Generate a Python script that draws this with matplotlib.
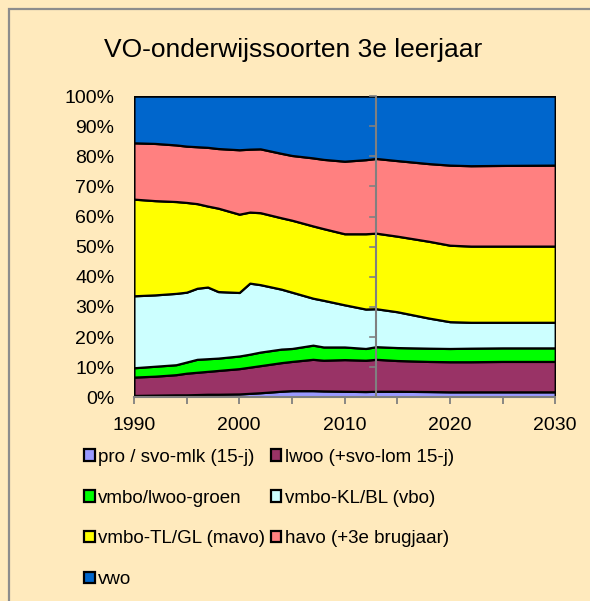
"""
VO-onderwijssoorten 3e leerjaar: 100% stacked area chart, 1990-2030.
"""
import numpy as np
import matplotlib
matplotlib.use("Agg")
import matplotlib.pyplot as plt
from matplotlib.patches import Rectangle

plt.rcParams['font.family'] = ['Liberation Sans', 'DejaVu Sans']

years = [1990, 1992, 1994, 1995, 1996, 1997, 1998, 2000, 2001, 2002, 2004, 2005,
         2007, 2008, 2010, 2012, 2013, 2015, 2018, 2020, 2022, 2025, 2030]

# shares in % per school type
pro = [0.6, 0.7, 0.8, 0.8, 0.9, 1.0, 1.0, 1.1, 1.3, 1.5, 2.0, 2.2,
       2.2, 2.1, 2.0, 1.9, 2.0, 2.0, 1.9, 1.8, 1.8, 1.8, 1.8]
lwoo = [6.1, 6.3, 6.7, 7.2, 7.4, 7.6, 7.9, 8.4, 8.7, 9.0, 9.5, 9.7,
        10.4, 10.2, 10.5, 10.4, 10.6, 10.2, 10.0, 10.0, 10.0, 10.1, 10.1]
groen = [3.1, 3.3, 3.3, 3.7, 4.3, 4.2, 4.1, 4.2, 4.3, 4.5, 4.5, 4.3,
         4.7, 4.4, 4.2, 3.9, 4.2, 4.3, 4.4, 4.4, 4.5, 4.5, 4.5]
vbo = [23.9, 23.7, 23.7, 23.2, 23.6, 23.8, 22.1, 21.1, 23.6, 22.4, 19.9, 18.7,
       15.6, 15.5, 14.0, 13.1, 12.6, 11.9, 10.0, 8.9, 8.6, 8.5, 8.5]
mavo = [32.1, 31.3, 30.5, 29.8, 28.1, 26.9, 27.7, 26.0, 23.6, 23.9, 23.7, 23.9,
        24.0, 23.8, 23.6, 25.0, 25.1, 25.1, 25.5, 25.4, 25.3, 25.3, 25.3]
havo = [18.7, 19.0, 18.8, 18.7, 18.9, 19.5, 19.8, 21.4, 20.9, 21.2, 21.4, 21.5,
        22.6, 23.0, 24.1, 24.6, 24.8, 25.1, 25.8, 26.6, 26.7, 26.8, 26.9]
vwo = [15.5, 15.7, 16.2, 16.6, 16.8, 17.0, 17.4, 17.8, 17.6, 17.5, 19.0, 19.7,
       20.5, 21.0, 21.6, 21.1, 20.7, 21.4, 22.4, 22.9, 23.1, 23.0, 22.9]

labels = ['pro / svo-mlk (15-j)', 'lwoo (+svo-lom 15-j)', 'vmbo/lwoo-groen',
          'vmbo-KL/BL (vbo)', 'vmbo-TL/GL (mavo)', 'havo (+3e brugjaar)', 'vwo']
colors = ['#9999FF', '#993366', '#00FF00', '#CCFFFF', '#FFFF00', '#FF8080', '#0066CC']
split_year = 2013

bg = '#FFEABD'
fig = plt.figure(figsize=(5.9, 6.01), dpi=100, facecolor=bg)
ax = fig.add_axes([0.227, 0.339, 0.714, 0.501])

data = np.array([pro, lwoo, groen, vbo, mavo, havo, vwo], dtype=float)
data = data / data.sum(axis=0) * 100.0

polys = ax.stackplot(years, data, colors=colors, labels=labels,
                     edgecolor='black', linewidth=1.6)

ax.set_xlim(1990, 2030)
ax.set_ylim(0, 100)
ax.set_facecolor('white')

# vertical marker line with small ticks
ax.axvline(split_year, color='#808080', lw=1.5, zorder=5)
for v in range(0, 101, 10):
    ax.plot([split_year - 0.55, split_year], [v, v], color='#808080', lw=1.2,
            zorder=5, clip_on=False)

for s in ['top', 'right', 'left']:
    ax.spines[s].set_visible(False)
ax.spines['bottom'].set_color('#808080')
ax.spines['bottom'].set_linewidth(1.5)

ax.set_yticks(range(0, 101, 10))
ax.set_yticklabels([f"{v}%" for v in range(0, 101, 10)])
ax.tick_params(axis='y', length=0, pad=14, labelsize=14)
ax.set_xticks(range(1990, 2031, 5))
ax.set_xticklabels([str(y) if y % 10 == 0 else '' for y in range(1990, 2031, 5)])
ax.tick_params(axis='x', length=5, width=1.3, color='#808080', labelsize=14, pad=9)

fig.text(0.497, 0.917, 'VO-onderwijssoorten 3e leerjaar', ha='center', va='center',
         fontsize=19)

# legend filled row by row, like the original
order = [0, 2, 4, 6, 1, 3, 5]
fig.legend([polys[i] for i in order], [labels[i] for i in order],
           loc='upper left', bbox_to_anchor=(0.127, 0.269), ncol=2, frameon=False,
           fontsize=13.5, handlelength=0.55, handleheight=0.55, handletextpad=0.2,
           columnspacing=0.3, labelspacing=1.27, borderpad=0)

# gray frame around the chart area
fig.patches.append(Rectangle((9 / 590, -0.05), 1.2, (1 - 9 / 601) + 0.05,
                             transform=fig.transFigure, fill=False,
                             edgecolor='#8C8C8C', lw=1.6))

fig.savefig('out.png', dpi=100, facecolor=bg)
